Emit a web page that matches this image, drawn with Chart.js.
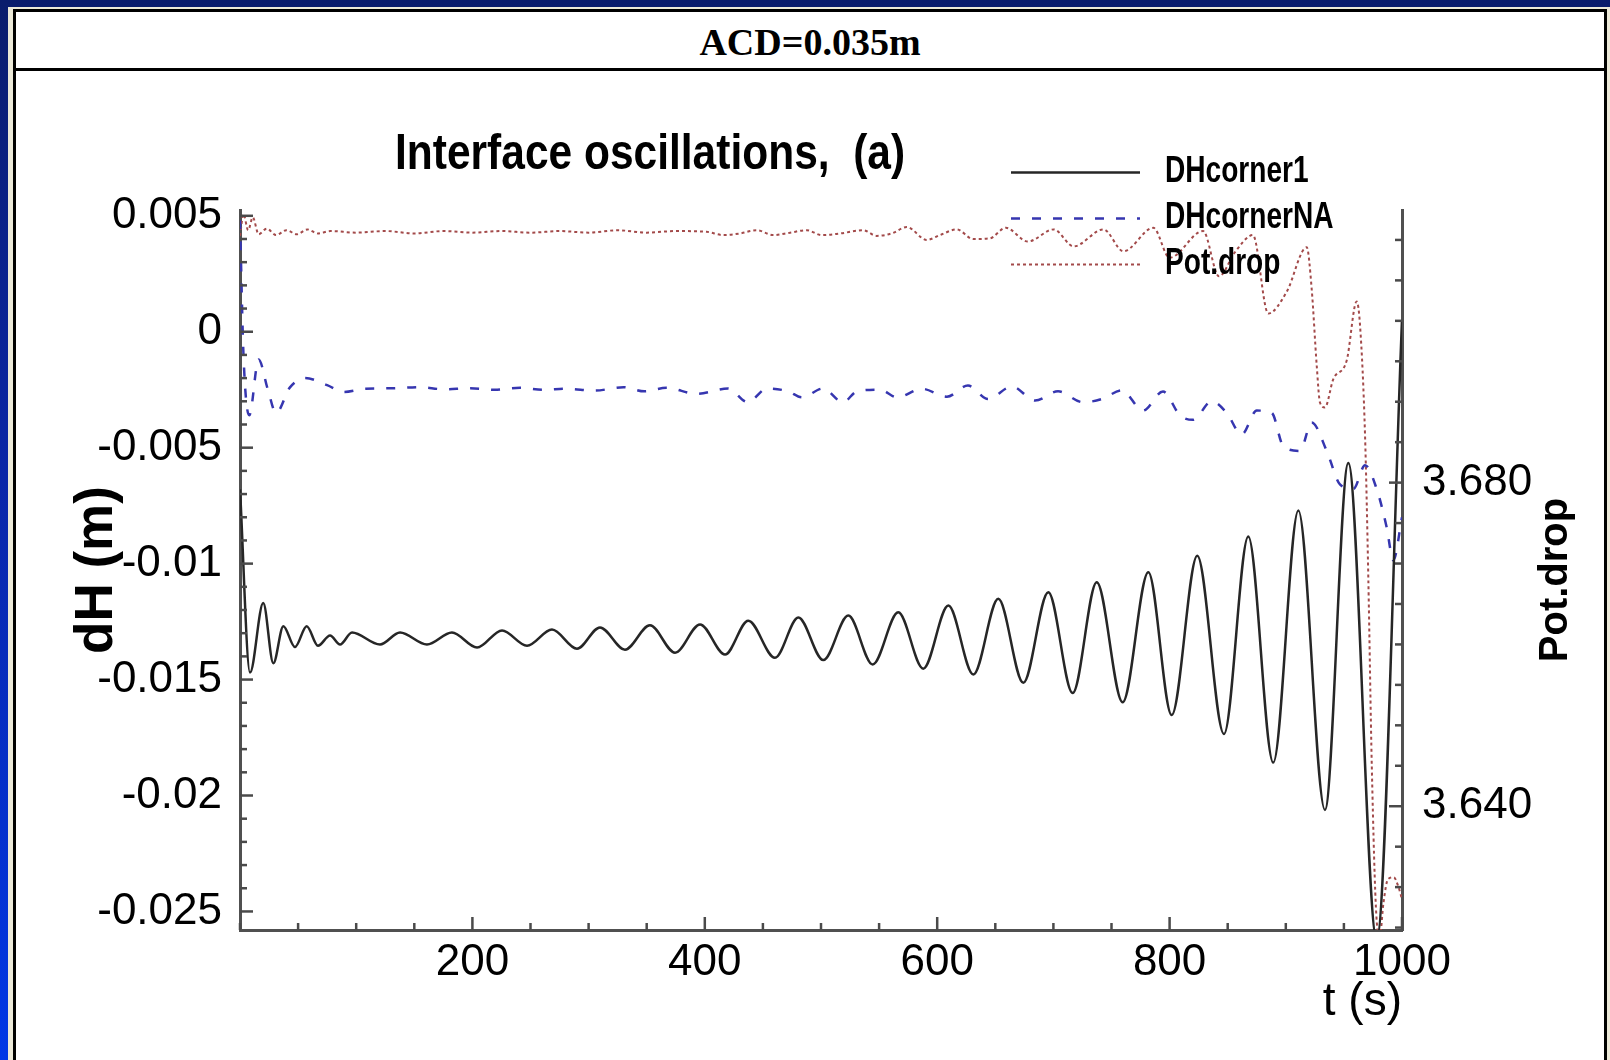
<!DOCTYPE html>
<html>
<head>
<meta charset="utf-8">
<title>Interface oscillations (a)</title>
<script src="https://cdn.jsdelivr.net/npm/chart.js@4.4.1/dist/chart.umd.min.js"></script>
<style>
    html, body { margin: 0; padding: 0; }
    body {
        width: 1610px; height: 1060px; position: relative; overflow: hidden;
        background: linear-gradient(to bottom, #0a1c6c 0%, #0a26a8 45%, #0037e6 100%);
    }
    #beige { position: absolute; left: 8px; top: 7px; right: 0; bottom: 0; background: #ece9d8; }
    #panel {
        position: absolute; left: 13px; top: 9px; width: 1594px; height: 1051px;
        background: #fff; border: 3px solid #000; border-bottom: none; box-sizing: border-box;
    }
    #hdr {
        position: absolute; left: 0; top: 0; width: 100%; height: 56px;
        border-bottom: 3px solid #000; text-align: center;
        font: bold 38px 'Liberation Serif', 'Times New Roman', serif; line-height: 60px; color: #000;
    }
    #c { position: absolute; left: 0; top: 60px; }
</style>
</head>
<body>
<div id="beige"></div>
<div id="panel">
    <div id="hdr">ACD=0.035m</div>
    <canvas id="c" width="1588" height="988"></canvas>
</div>
<script>
// values (t in s)
var tCorner1 = [0, 8.6, 20, 28.7, 37.3, 47.3, 57.4, 67.1, 77.5, 86.1, 96.4, 120.5, 137.7, 160.9, 182.4,
    204, 225.5, 247, 268.5, 290, 309.8, 331.3, 352.8, 374.4, 395.9, 417.4, 437.4, 460.4, 480.5, 502,
    523.5, 544.5, 566.5, 588, 609.6, 631.1, 652.6, 674.1, 695.6, 716.6, 737.3, 759.6, 781.7, 801.8,
    823.8, 846.8, 867.7, 889.2, 910.8, 933.7, 953.8, 978.2, 1000];
var dhCorner1 = [-0.0068, -0.0147, -0.0117, -0.0143, -0.0127, -0.0136, -0.0127, -0.01354, -0.0131, -0.01349,
    -0.01297, -0.01349, -0.01297, -0.01349, -0.01297, -0.01362, -0.01288, -0.01354, -0.01284, -0.01367,
    -0.01275, -0.01371, -0.01266, -0.01384, -0.01262, -0.01392, -0.01246, -0.01406, -0.01232, -0.01416,
    -0.01224, -0.01435, -0.0121, -0.01453, -0.01181, -0.01478, -0.01152, -0.01514, -0.01123, -0.01558,
    -0.0108, -0.01598, -0.01037, -0.01653, -0.00966, -0.01735, -0.00883, -0.01858, -0.00771, -0.02062,
    -0.00566, -0.0262, 0.0005];

var tCornerNA = [0, 3, 8, 16, 24, 31, 43, 56, 75, 89, 108, 129, 155, 175, 198, 219, 241, 261, 281, 305,
    330, 348, 367, 393, 420, 437, 453.5, 471.6, 483.6, 501.7, 518.9, 531, 550.8, 565.4, 586.9, 608.4,
    626.5, 643.7, 664.4, 684.2, 704, 725.5, 741.8, 759, 777.1, 794.3, 808.9, 820.1, 836.2, 849.1, 862,
    875, 887.9, 897.9, 912.2, 922.3, 935.2, 946.6, 958.1, 968.2, 978.2, 986.8, 992.5, 1000];
var dhCornerNA = [0.0048, -0.001, -0.0036, -0.0012, -0.0025, -0.0035, -0.0024, -0.002, -0.0023, -0.0026,
    -0.00246, -0.00244, -0.00239, -0.00248, -0.00244, -0.0025, -0.00242, -0.0025, -0.00246, -0.00254,
    -0.00239, -0.00257, -0.00242, -0.00268, -0.00245, -0.00304, -0.00245, -0.00257, -0.00283, -0.00245,
    -0.00304, -0.00257, -0.0025, -0.00283, -0.00246, -0.0028, -0.00232, -0.0029, -0.00236, -0.00297,
    -0.00257, -0.00304, -0.0029, -0.00253, -0.0034, -0.00258, -0.0036, -0.0038, -0.003, -0.0035,
    -0.00443, -0.0034, -0.0035, -0.00494, -0.00514, -0.00391, -0.00514, -0.00658, -0.00678, -0.00576,
    -0.00678, -0.00843, -0.00986, -0.008];

var tPotDrop = [0, 3, 7, 11, 16, 23, 31, 40, 49, 58, 67, 78, 100, 125, 150, 175, 200, 225, 250, 275, 300,
    325, 350, 375, 401.6, 415.9, 430.3, 444.7, 458.9, 473.3, 487.7, 500.6, 516.4, 536.4, 547.9, 560.8,
    573.8, 591, 602.4, 616.8, 631.1, 645.4, 659.1, 677.9, 700.3, 717.4, 743.1, 760.3, 786, 800, 828.8,
    842.5, 856.3, 871.7, 884.9, 900.8, 918, 922.3, 926.6, 929.4, 933.7, 940.9, 952.4, 961, 964, 968.2,
    971, 974, 978, 981, 984, 988, 993, 997, 1000];
var potDrop = [3.7105, 3.7132, 3.7112, 3.7128, 3.7107, 3.7114, 3.7106, 3.7112, 3.7107, 3.7113, 3.7108,
    3.7111, 3.7109, 3.7111, 3.7108, 3.7111, 3.7109, 3.7111, 3.7109, 3.7111, 3.7109, 3.7112, 3.7109,
    3.7111, 3.711, 3.7106, 3.7108, 3.7112, 3.7106, 3.7109, 3.7112, 3.7106, 3.7108, 3.7112, 3.7105,
    3.7108, 3.7116, 3.71, 3.7106, 3.7113, 3.7101, 3.7102, 3.7115, 3.7098, 3.7113, 3.7092, 3.7113,
    3.7086, 3.7115, 3.7078, 3.7111, 3.7055, 3.7085, 3.7106, 3.7009, 3.7036, 3.7091, 3.7039, 3.6945,
    3.6899, 3.6893, 3.6928, 3.6951, 3.7024, 3.6992, 3.6858, 3.6683, 3.645, 3.6263, 3.624, 3.628,
    3.631, 3.6312, 3.63, 3.6285];

var seriesNames = ['DHcorner1', 'DHcornerNA', 'Pot.drop'];
var xTickLabels = ['200', '400', '600', '800', '1000'];
var yTickLabels = ['0.005', '0', '-0.005', '-0.01', '-0.015', '-0.02', '-0.025'];
var y2TickLabels = ['3.640', '3.680'];
var plotTitle = 'Interface oscillations,  (a)';

function toPoints(ts, vs) {
    return ts.map(function (t, i) { return {x: t, y: vs[i]}; });
}

function onStep(v, step) {
    return Math.abs(v / step - Math.round(v / step)) < 1e-6;
}

// tecplot style: ticks point into the plot, labelled ones longer
var inwardTicks = {
    id: 'inwardTicks',
    afterDatasetsDraw: function (chart) {
        var ctx = chart.ctx;
        ctx.save();
        ctx.strokeStyle = '#4a4a4a';
        ctx.lineWidth = 2.5;
        ['x', 'y', 'y2'].forEach(function (id) {
            var s = chart.scales[id];
            var step = s.options.ticks.stepSize;
            s.ticks.forEach(function (tk) {
                if (!onStep(tk.value, step)) return;
                var len = tk.label ? 13 : 7;
                var p = s.getPixelForValue(tk.value);
                ctx.beginPath();
                if (id === 'x') { ctx.moveTo(p, s.top); ctx.lineTo(p, s.top - len); }
                else if (id === 'y') { ctx.moveTo(s.right, p); ctx.lineTo(s.right + len, p); }
                else { ctx.moveTo(s.left, p); ctx.lineTo(s.left - len, p); }
                ctx.stroke();
            });
        });
        ctx.restore();
    }
};

function narrowText(ctx, text, x, y, sx) {
    ctx.save();
    ctx.translate(x, y);
    ctx.scale(sx, 1);
    ctx.fillText(text, 0, 0);
    ctx.restore();
}

// title, legend in the corner and the right axis title (reads upwards)
var decor = {
    id: 'decor',
    afterDraw: function (chart) {
        var ctx = chart.ctx;
        var fam = "'Liberation Sans', Arial, sans-serif";
        ctx.save();
        ctx.fillStyle = '#000';
        ctx.textAlign = 'left';
        ctx.textBaseline = 'alphabetic';
        ctx.font = 'bold 50px ' + fam;
        narrowText(ctx, plotTitle, 379, 97, 0.85);

        chart.data.datasets.forEach(function (ds, i) {
            var y = 100.5 + i * 46;
            ctx.save();
            ctx.strokeStyle = ds.borderColor;
            ctx.lineWidth = ds.borderWidth;
            ctx.setLineDash(ds.borderDash || []);
            ctx.beginPath();
            ctx.moveTo(995, y);
            ctx.lineTo(1124, y);
            ctx.stroke();
            ctx.restore();
            ctx.font = 'bold 36px ' + fam;
            ctx.textBaseline = 'middle';
            narrowText(ctx, ds.label, 1149, y, 0.78);
        });

        ctx.translate(1540, 508);
        ctx.rotate(-Math.PI / 2);
        ctx.textAlign = 'center';
        ctx.textBaseline = 'middle';
        ctx.font = 'bold 40px ' + fam;
        ctx.fillText(chart.options.scales.y2.title.text, 0, 0);
        ctx.restore();
    }
};

Chart.defaults.font.family = "'Liberation Sans', Arial, sans-serif";
Chart.defaults.color = '#000';

var ctx = document.getElementById('c').getContext('2d');
var myChart = new Chart(ctx, {
    type: 'line',
    data: {
        datasets: [
            {
                label: seriesNames[0], data: toPoints(tCorner1, dhCorner1), yAxisID: 'y',
                borderColor: '#262626', borderWidth: 2.5, pointRadius: 0, cubicInterpolationMode: 'monotone'
            },
            {
                label: seriesNames[1], data: toPoints(tCornerNA, dhCornerNA), yAxisID: 'y',
                borderColor: '#3636b0', borderWidth: 2.5, borderDash: [9, 12], pointRadius: 0,
                cubicInterpolationMode: 'monotone'
            },
            {
                label: seriesNames[2], data: toPoints(tPotDrop, potDrop), yAxisID: 'y2',
                borderColor: '#a34a4a', borderWidth: 2, borderDash: [3, 3], pointRadius: 0,
                cubicInterpolationMode: 'monotone'
            }
        ]
    },
    options: {
        responsive: false,
        animation: false,
        devicePixelRatio: 1,
        layout: { padding: { top: 138, left: 0, right: 0, bottom: 0 } },
        plugins: { legend: { display: false }, tooltip: { enabled: false } },
        scales: {
            x: {
                type: 'linear', min: 0, max: 1000,
                grid: { display: false, drawTicks: false },
                border: { color: '#505050', width: 3 },
                ticks: {
                    stepSize: 50, includeBounds: false, autoSkip: false, maxRotation: 0, minRotation: 0, padding: 6,
                    font: { size: 44 },
                    callback: function (v) {
                        var s = String(Math.round(v));
                        return xTickLabels.indexOf(s) >= 0 ? s : '';
                    }
                },
                title: { display: true, text: 't (s)', align: 'end', font: { size: 46 }, padding: { top: 0, bottom: 30 } },
                afterFit: function (s) { s.height = 130; }
            },
            y: {
                position: 'left', min: -0.0258, max: 0.00525,
                grid: { display: false, drawTicks: false },
                border: { color: '#505050', width: 3 },
                ticks: {
                    stepSize: 0.001, includeBounds: false, autoSkip: false, padding: 18,
                    font: { size: 44 },
                    callback: function (v) {
                        var s = String(parseFloat(v.toFixed(3)));
                        return yTickLabels.indexOf(s) >= 0 ? s : '';
                    }
                },
                title: { display: true, text: 'dH (m)', font: { size: 53, weight: 'bold' }, padding: { top: 50, bottom: 0 } },
                afterFit: function (s) { s.width = 224; }
            },
            y2: {
                position: 'right', min: 3.6247, max: 3.7137,
                grid: { display: false, drawTicks: false },
                border: { color: '#505050', width: 3 },
                ticks: {
                    stepSize: 0.005, includeBounds: false, autoSkip: false, padding: 20,
                    font: { size: 44 },
                    callback: function (v) {
                        var s = v.toFixed(3);
                        return y2TickLabels.indexOf(s) >= 0 ? s : '';
                    }
                },
                title: { display: false, text: 'Pot.drop' },
                afterFit: function (s) { s.width = 202; }
            }
        }
    },
    plugins: [inwardTicks, decor]
});
</script>
</body>
</html>
